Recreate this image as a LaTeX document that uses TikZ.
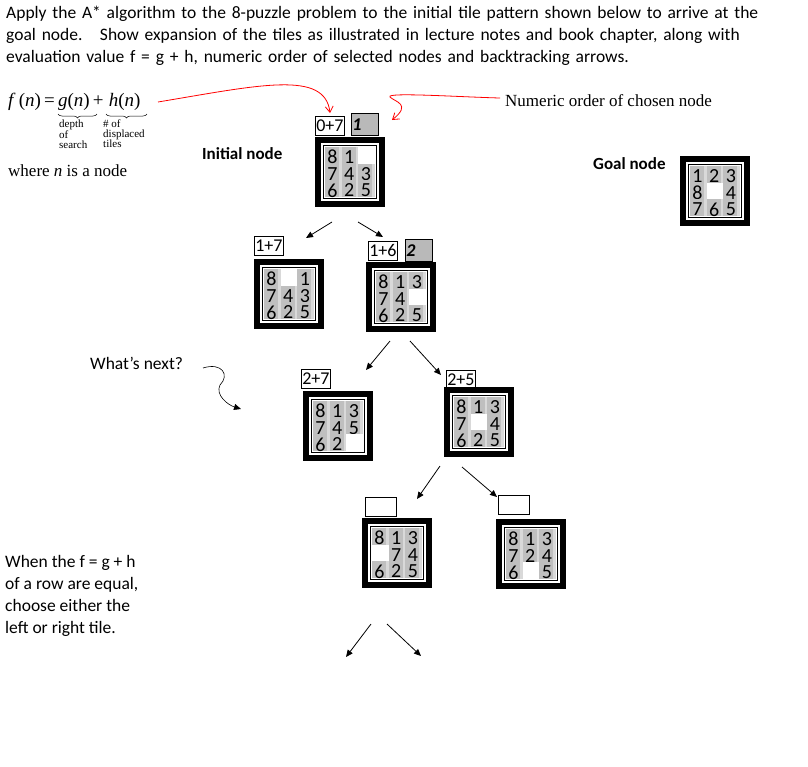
\documentclass[tikz,border=0pt]{standalone}
\usepackage{fontspec}
\setmainfont{Carlito}
\newfontfamily\serif{Liberation Serif}
\usetikzlibrary{arrows.meta,decorations.pathreplacing}
\tikzset{
 arr/.style={-{Triangle[length=7pt,width=6pt]},line width=0.8pt},
 redarr/.style={-{Straight Barb[length=6pt,width=8pt]},red,line width=0.8pt},
 lab/.style={draw,line width=0.6pt,inner sep=1pt,anchor=north west,font=\fontsize{18}{18}\selectfont,minimum height=19pt},
 grey/.style={draw,fill=gray!55,line width=0.6pt,anchor=north west,minimum width=27pt,minimum height=22pt,inner sep=1pt,font=\fontsize{18}{18}\selectfont\bfseries\itshape,align=left,text width=25pt},
 txt/.style={anchor=north west,inner sep=0pt,font=\fontsize{17.5}{22}\selectfont,align=left},
 brc/.style={decorate,decoration={brace,mirror,amplitude=4pt},line width=0.5pt}
}
\newcommand\pz[4]{% name, x, y, tiles
 \fill[black] (#2,#3) rectangle ++(70,70);
 \node[minimum size=70pt,inner sep=0pt,anchor=north west] (#1) at (#2,#3) {};
 \fill[white] (#2+6,#3+6) rectangle ++(58,58);
 \draw[line width=0.8pt] (#2+8.5,#3+8.5) rectangle ++(53,53);
 \foreach \v [count=\i from 0] in {#4}{
  \pgfmathtruncatemacro\c{mod(\i,3)}\pgfmathtruncatemacro\r{div(\i,3)}
  \ifnum\v=0
   \fill[white] (#2+10+\c*16.7,#3+10+\r*16.7) rectangle ++(16.7,16.7);
  \else
   \fill[gray!50] (#2+10+\c*16.7,#3+10+\r*16.7) rectangle ++(16.7,16.7);
   \fill[gray!30] (#2+10+\c*16.7+14,#3+10+\r*16.7) rectangle ++(2.7,16.7);
   \node[inner sep=0pt,font=\fontsize{20}{20}\selectfont] at (#2+10+\c*16.7+7.5,#3+10+\r*16.7+10) {\v};
  \fi}
}
\begin{document}
\begin{tikzpicture}[x=1pt,y=-1pt]
\useasboundingbox (0,0) rectangle (808,766);
\node[txt,text width=795pt] (title) at (6,6) {Apply the A* algorithm to the 8-puzzle problem to the initial tile pattern shown below to arrive at the\\goal node.\quad Show expansion of the tiles as illustrated in lecture notes and book chapter, along with\\evaluation value f = g + h, numeric order of selected nodes and backtracking arrows.};
% formula
\node[anchor=north west,inner sep=0pt,font=\serif\fontsize{19}{19}\selectfont] (f) at (8,93) {\textit{f}\,(\textit{n})\,=\,\textit{g}(\textit{n})\,+\;\textit{h}(\textit{n})};
\coordinate (bg1) at (58,114);\coordinate (bg2) at (97,114);
\coordinate (bh1) at (106,114);\coordinate (bh2) at (147,114);
\draw[brc] (bg1) -- (bg2);\draw[brc] (bh1) -- (bh2);
\node[txt,font=\serif\fontsize{11}{10}\selectfont] (d1) at (59,120) {depth\\of\\search};
\node[txt,font=\serif\fontsize{11}{10}\selectfont] (d2) at (103,120) {\# of\\displaced\\tiles};
\node[txt,font=\serif\fontsize{17}{17}\selectfont] (where) at (8,165) {where \textit{n} is a node};
\node[txt,font=\fontsize{17}{17}\selectfont\bfseries] (init) at (202,147) {Initial node};
\node[txt,font=\fontsize{17}{17}\selectfont\bfseries] (goal) at (593,157) {Goal node};
\node[txt,font=\serif\fontsize{17}{17}\selectfont] (num) at (505,94) {Numeric order of chosen node};
\node[txt] (next) at (90,357) {What’s next?};
\node[txt] (when) at (5,555) {When the f = g + h\\of a row are equal,\\choose either the\\left or right tile.};
% puzzles
\pz{p0}{315}{137}{8,1,0,7,4,3,6,2,5}
\pz{pg}{680}{156}{1,2,3,8,0,4,7,6,5}
\pz{p1}{254}{259}{8,0,1,7,4,3,6,2,5}
\pz{p2}{366}{262}{8,1,3,7,4,0,6,2,5}
\pz{p3}{303}{391}{8,1,3,7,4,5,6,2,0}
\pz{p4}{444}{387}{8,1,3,7,0,4,6,2,5}
\pz{p5}{362}{518}{8,1,3,0,7,4,6,2,5}
\pz{p6}{496}{519}{8,1,3,7,2,4,6,0,5}
% labels
\node[lab] (l0) at (315,116) {0+7};
\node[grey] (g0) at (351,113) {1};
\node[lab] (l1) at (254,236) {1+7};
\node[lab] (l2) at (368,241) {1+6};
\node[grey] (g2) at (405,239) {2};
\node[lab] (l3) at (301,369) {2+7};
\node[lab] (l4) at (446,370) {2+5};
\node[lab,minimum width=31pt] (l5) at (365,497) {};
\node[lab,minimum width=31pt] (l6) at (498,495) {};
% arrows
\coordinate (a1) at (332,222);\coordinate (b1) at (306,238);
\coordinate (a2) at (358,222);\coordinate (b2) at (383,237);
\coordinate (a3) at (390,341);\coordinate (b3) at (366,370);
\coordinate (a4) at (410,341);\coordinate (b4) at (441,375);
\coordinate (a5) at (440,466);\coordinate (b5) at (417,499);
\coordinate (a6) at (462,467);\coordinate (b6) at (497,497);
\coordinate (a7) at (371,624);\coordinate (b7) at (346,657);
\coordinate (a8) at (387,624);\coordinate (b8) at (421,656);
\foreach \i in {1,...,8} \draw[arr] (a\i) -- (b\i);
% red arrows
\coordinate (r1) at (158,102);\coordinate (r2) at (330,113);
\draw[redarr] (r1) .. controls (260,85) and (325,70) .. (r2);
\coordinate (r3) at (500,98);\coordinate (r4) at (392,120);
\draw[redarr] (r3) .. controls (460,97) and (385,92) .. (390,97) .. controls (395,102) and (412,104) .. (r4);
% curly arrow
\coordinate (c1) at (203,368);\coordinate (c2) at (241,409);
\draw[arr,line width=0.6pt] (c1) .. controls (222,362) and (230,375) .. (220,385) .. controls (215,395) and (228,405) .. (c2);
\end{tikzpicture}
\end{document}
